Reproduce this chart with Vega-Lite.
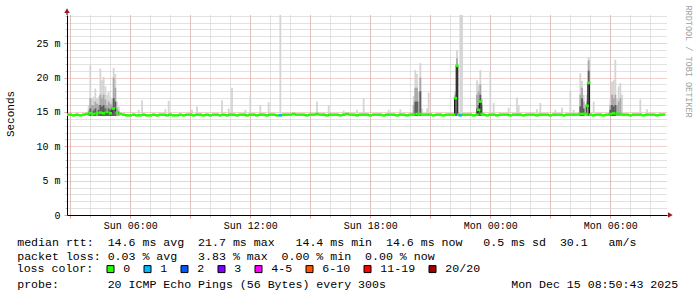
{
"$schema": "https://vega.github.io/schema/vega-lite/v6.json",
"width": 600, "height": 200,
"autosize": {"type": "none"},
"padding": {"left": 67, "top": 15, "right": 30, "bottom": 82},
"background": "#ffffff",
"config": {"view": {"stroke": null}, "font": "Liberation Mono",
  "axis": {"labelFont": "Liberation Mono", "titleFont": "Liberation Mono", "labelColor": "#000", "titleColor": "#000", "titleFontWeight": "normal"}},
"datasets": {
"med": [
{"t":"2025-12-14T02:50","m":14.6,"l":"0"},{"t":"2025-12-14T03:00","m":14.6,"l":"0"},{"t":"2025-12-14T03:10","m":14.5,"l":"0"},{"t":"2025-12-14T03:20","m":14.6,"l":"0"},{"t":"2025-12-14T03:30","m":14.5,"l":"0"},{"t":"2025-12-14T03:40","m":14.6,"l":"0"},{"t":"2025-12-14T03:50","m":14.7,"l":"0"},
{"t":"2025-12-14T04:00","m":14.8,"l":"0"},{"t":"2025-12-14T04:10","m":14.7,"l":"0"},{"t":"2025-12-14T04:20","m":14.8,"l":"0"},{"t":"2025-12-14T04:30","m":14.9,"l":"0"},{"t":"2025-12-14T04:40","m":14.8,"l":"0"},{"t":"2025-12-14T04:50","m":15.0,"l":"0"},
{"t":"2025-12-14T05:00","m":14.8,"l":"0"},{"t":"2025-12-14T05:10","m":15.5,"l":"0"},{"t":"2025-12-14T05:20","m":14.9,"l":"0"},{"t":"2025-12-14T05:30","m":14.7,"l":"0"},{"t":"2025-12-14T05:40","m":14.6,"l":"0"},{"t":"2025-12-14T05:50","m":14.5,"l":"0"},
{"t":"2025-12-14T06:00","m":14.5,"l":"0"},{"t":"2025-12-14T06:10","m":14.6,"l":"0"},{"t":"2025-12-14T06:20","m":14.5,"l":"0"},{"t":"2025-12-14T06:30","m":14.5,"l":"0"},{"t":"2025-12-14T06:40","m":14.6,"l":"0"},{"t":"2025-12-14T06:50","m":14.5,"l":"0"},
{"t":"2025-12-14T07:00","m":14.5,"l":"0"},{"t":"2025-12-14T07:10","m":14.6,"l":"0"},{"t":"2025-12-14T07:20","m":14.5,"l":"0"},{"t":"2025-12-14T07:30","m":14.6,"l":"0"},{"t":"2025-12-14T07:40","m":14.6,"l":"0"},{"t":"2025-12-14T07:50","m":14.5,"l":"0"},
{"t":"2025-12-14T08:00","m":14.6,"l":"0"},{"t":"2025-12-14T08:10","m":14.5,"l":"0"},{"t":"2025-12-14T08:20","m":14.5,"l":"0"},{"t":"2025-12-14T08:30","m":14.6,"l":"0"},{"t":"2025-12-14T08:40","m":14.5,"l":"0"},{"t":"2025-12-14T08:50","m":14.6,"l":"0"},
{"t":"2025-12-14T09:00","m":14.6,"l":"0"},{"t":"2025-12-14T09:10","m":14.5,"l":"0"},{"t":"2025-12-14T09:20","m":14.6,"l":"0"},{"t":"2025-12-14T09:30","m":14.6,"l":"0"},{"t":"2025-12-14T09:40","m":14.5,"l":"0"},{"t":"2025-12-14T09:50","m":14.6,"l":"0"},
{"t":"2025-12-14T10:00","m":14.5,"l":"0"},{"t":"2025-12-14T10:10","m":14.6,"l":"0"},{"t":"2025-12-14T10:20","m":14.6,"l":"0"},{"t":"2025-12-14T10:30","m":14.5,"l":"0"},{"t":"2025-12-14T10:40","m":14.6,"l":"0"},{"t":"2025-12-14T10:50","m":14.5,"l":"0"},
{"t":"2025-12-14T11:00","m":14.6,"l":"0"},{"t":"2025-12-14T11:10","m":14.6,"l":"0"},{"t":"2025-12-14T11:20","m":14.5,"l":"0"},{"t":"2025-12-14T11:30","m":14.6,"l":"0"},{"t":"2025-12-14T11:40","m":14.6,"l":"0"},{"t":"2025-12-14T11:50","m":14.5,"l":"0"},
{"t":"2025-12-14T12:00","m":14.6,"l":"0"},{"t":"2025-12-14T12:10","m":14.6,"l":"0"},{"t":"2025-12-14T12:20","m":14.5,"l":"0"},{"t":"2025-12-14T12:30","m":14.6,"l":"0"},{"t":"2025-12-14T12:40","m":14.6,"l":"0"},{"t":"2025-12-14T12:50","m":14.5,"l":"0"},
{"t":"2025-12-14T13:00","m":14.6,"l":"0"},{"t":"2025-12-14T13:10","m":14.6,"l":"0"},{"t":"2025-12-14T13:20","m":14.5,"l":"0"},{"t":"2025-12-14T13:30","m":14.5,"l":"1"},{"t":"2025-12-14T13:40","m":14.6,"l":"0"},{"t":"2025-12-14T13:50","m":14.6,"l":"0"},
{"t":"2025-12-14T14:00","m":14.6,"l":"0"},{"t":"2025-12-14T14:10","m":14.7,"l":"0"},{"t":"2025-12-14T14:20","m":14.6,"l":"0"},{"t":"2025-12-14T14:30","m":14.6,"l":"0"},{"t":"2025-12-14T14:40","m":14.6,"l":"0"},{"t":"2025-12-14T14:50","m":14.5,"l":"0"},
{"t":"2025-12-14T15:00","m":14.6,"l":"0"},{"t":"2025-12-14T15:10","m":14.6,"l":"0"},{"t":"2025-12-14T15:20","m":14.7,"l":"0"},{"t":"2025-12-14T15:30","m":14.6,"l":"0"},{"t":"2025-12-14T15:40","m":14.6,"l":"0"},{"t":"2025-12-14T15:50","m":14.5,"l":"0"},
{"t":"2025-12-14T16:00","m":14.6,"l":"0"},{"t":"2025-12-14T16:10","m":14.6,"l":"0"},{"t":"2025-12-14T16:20","m":14.6,"l":"0"},{"t":"2025-12-14T16:30","m":14.5,"l":"0"},{"t":"2025-12-14T16:40","m":14.6,"l":"0"},{"t":"2025-12-14T16:50","m":14.7,"l":"0"},
{"t":"2025-12-14T17:00","m":14.6,"l":"0"},{"t":"2025-12-14T17:10","m":14.6,"l":"0"},{"t":"2025-12-14T17:20","m":14.5,"l":"0"},{"t":"2025-12-14T17:30","m":14.6,"l":"0"},{"t":"2025-12-14T17:40","m":14.6,"l":"0"},{"t":"2025-12-14T17:50","m":14.6,"l":"0"},
{"t":"2025-12-14T18:00","m":14.5,"l":"0"},{"t":"2025-12-14T18:10","m":14.6,"l":"0"},{"t":"2025-12-14T18:20","m":14.6,"l":"0"},{"t":"2025-12-14T18:30","m":14.6,"l":"0"},{"t":"2025-12-14T18:40","m":14.5,"l":"0"},{"t":"2025-12-14T18:50","m":14.6,"l":"0"},
{"t":"2025-12-14T19:00","m":14.6,"l":"0"},{"t":"2025-12-14T19:10","m":14.6,"l":"0"},{"t":"2025-12-14T19:20","m":14.5,"l":"0"},{"t":"2025-12-14T19:30","m":14.6,"l":"0"},{"t":"2025-12-14T19:40","m":14.6,"l":"0"},{"t":"2025-12-14T19:50","m":14.5,"l":"0"},
{"t":"2025-12-14T20:00","m":14.6,"l":"0"},{"t":"2025-12-14T20:10","m":14.6,"l":"0"},{"t":"2025-12-14T20:20","m":14.7,"l":"0"},{"t":"2025-12-14T20:30","m":14.7,"l":"0"},{"t":"2025-12-14T20:40","m":14.6,"l":"0"},{"t":"2025-12-14T20:50","m":14.6,"l":"0"},
{"t":"2025-12-14T21:00","m":14.6,"l":"0"},{"t":"2025-12-14T21:10","m":14.5,"l":"0"},{"t":"2025-12-14T21:20","m":14.6,"l":"0"},{"t":"2025-12-14T21:30","m":14.6,"l":"0"},{"t":"2025-12-14T21:40","m":14.5,"l":"0"},{"t":"2025-12-14T21:50","m":14.6,"l":"0"},
{"t":"2025-12-14T22:00","m":14.6,"l":"0"},{"t":"2025-12-14T22:10","m":14.6,"l":"0"},{"t":"2025-12-14T22:15","m":17.0,"l":"0"},{"t":"2025-12-14T22:20","m":21.7,"l":"0"},{"t":"2025-12-14T22:25","m":14.6,"l":"0"},{"t":"2025-12-14T22:30","m":14.5,"l":"1"},{"t":"2025-12-14T22:40","m":14.6,"l":"0"},{"t":"2025-12-14T22:50","m":14.6,"l":"0"},
{"t":"2025-12-14T23:00","m":14.6,"l":"0"},{"t":"2025-12-14T23:10","m":14.5,"l":"0"},{"t":"2025-12-14T23:20","m":14.6,"l":"0"},{"t":"2025-12-14T23:25","m":15.3,"l":"0"},{"t":"2025-12-14T23:30","m":16.5,"l":"0"},{"t":"2025-12-14T23:35","m":14.7,"l":"0"},{"t":"2025-12-14T23:40","m":14.6,"l":"0"},{"t":"2025-12-14T23:50","m":14.5,"l":"0"},
{"t":"2025-12-15T00:00","m":14.6,"l":"0"},{"t":"2025-12-15T00:10","m":14.6,"l":"0"},{"t":"2025-12-15T00:20","m":14.5,"l":"0"},{"t":"2025-12-15T00:30","m":14.6,"l":"0"},{"t":"2025-12-15T00:40","m":14.6,"l":"0"},{"t":"2025-12-15T00:50","m":14.6,"l":"0"},
{"t":"2025-12-15T01:00","m":14.5,"l":"0"},{"t":"2025-12-15T01:10","m":14.6,"l":"0"},{"t":"2025-12-15T01:20","m":14.6,"l":"0"},{"t":"2025-12-15T01:30","m":14.6,"l":"0"},{"t":"2025-12-15T01:40","m":14.5,"l":"0"},{"t":"2025-12-15T01:50","m":14.6,"l":"0"},
{"t":"2025-12-15T02:00","m":14.6,"l":"0"},{"t":"2025-12-15T02:10","m":14.6,"l":"0"},{"t":"2025-12-15T02:20","m":14.5,"l":"0"},{"t":"2025-12-15T02:30","m":14.6,"l":"0"},{"t":"2025-12-15T02:40","m":14.6,"l":"0"},{"t":"2025-12-15T02:50","m":14.6,"l":"0"},
{"t":"2025-12-15T03:00","m":14.5,"l":"0"},{"t":"2025-12-15T03:10","m":14.6,"l":"0"},{"t":"2025-12-15T03:20","m":14.6,"l":"0"},{"t":"2025-12-15T03:30","m":14.6,"l":"0"},{"t":"2025-12-15T03:40","m":14.5,"l":"0"},{"t":"2025-12-15T03:50","m":14.6,"l":"0"},
{"t":"2025-12-15T04:00","m":14.6,"l":"0"},{"t":"2025-12-15T04:10","m":14.6,"l":"0"},{"t":"2025-12-15T04:20","m":14.6,"l":"0"},{"t":"2025-12-15T04:30","m":14.7,"l":"0"},{"t":"2025-12-15T04:40","m":14.7,"l":"0"},{"t":"2025-12-15T04:45","m":14.7,"l":"0"},{"t":"2025-12-15T04:50","m":15.9,"l":"0"},{"t":"2025-12-15T04:55","m":19.2,"l":"0"},
{"t":"2025-12-15T05:00","m":14.6,"l":"0"},{"t":"2025-12-15T05:10","m":14.5,"l":"0"},{"t":"2025-12-15T05:20","m":14.6,"l":"0"},{"t":"2025-12-15T05:30","m":14.6,"l":"0"},{"t":"2025-12-15T05:40","m":14.5,"l":"0"},{"t":"2025-12-15T05:50","m":14.6,"l":"0"},
{"t":"2025-12-15T06:00","m":14.7,"l":"0"},{"t":"2025-12-15T06:10","m":14.8,"l":"0"},{"t":"2025-12-15T06:20","m":14.7,"l":"0"},{"t":"2025-12-15T06:30","m":14.7,"l":"0"},{"t":"2025-12-15T06:40","m":14.6,"l":"0"},{"t":"2025-12-15T06:50","m":14.6,"l":"0"},
{"t":"2025-12-15T07:00","m":14.5,"l":"0"},{"t":"2025-12-15T07:10","m":14.6,"l":"0"},{"t":"2025-12-15T07:20","m":14.6,"l":"0"},{"t":"2025-12-15T07:30","m":14.6,"l":"0"},{"t":"2025-12-15T07:40","m":14.5,"l":"0"},{"t":"2025-12-15T07:50","m":14.6,"l":"0"},
{"t":"2025-12-15T08:00","m":14.6,"l":"0"},{"t":"2025-12-15T08:10","m":14.6,"l":"0"},{"t":"2025-12-15T08:20","m":14.5,"l":"0"},{"t":"2025-12-15T08:30","m":14.6,"l":"0"},{"t":"2025-12-15T08:40","m":14.6,"l":"0"}
],
"smoke": [
{"t":"2025-12-14T03:55","h":16.0,"p":15.2},{"t":"2025-12-14T04:00","h":21.8,"p":17.0,"q":15.5},{"t":"2025-12-14T04:05","h":17.0,"p":16.0},{"t":"2025-12-14T04:10","h":17.2,"p":16.0,"q":15.2},
{"t":"2025-12-14T04:15","h":18.4,"p":16.5,"q":15.5},{"t":"2025-12-14T04:20","h":17.0,"p":16.2},{"t":"2025-12-14T04:25","h":17.2,"p":16.0,"q":15.3},{"t":"2025-12-14T04:30","h":21.3,"p":17.5,"q":16.0},
{"t":"2025-12-14T04:35","h":19.6,"p":17.0,"q":15.8},{"t":"2025-12-14T04:40","h":20.1,"p":17.5,"q":16.0},{"t":"2025-12-14T04:45","h":18.7,"p":16.8,"q":15.5},{"t":"2025-12-14T04:50","h":17.5,"p":16.0,"q":15.2},
{"t":"2025-12-14T04:55","h":17.9,"p":16.5,"q":15.5},{"t":"2025-12-14T05:00","h":17.2,"p":16.2,"q":15.3},{"t":"2025-12-14T05:05","h":16.8,"p":16.0,"q":15.2},{"t":"2025-12-14T05:10","h":21.4,"p":20.0,"q":17.0},
{"t":"2025-12-14T05:15","h":20.5,"p":18.5,"q":16.5},{"t":"2025-12-14T05:20","h":16.5,"p":15.5},{"t":"2025-12-14T05:25","h":15.8,"p":15.2},
{"t":"2025-12-14T06:25","h":15.3},{"t":"2025-12-14T06:35","h":16.7},{"t":"2025-12-14T07:45","h":15.4},{"t":"2025-12-14T07:55","h":16.6},{"t":"2025-12-14T09:05","h":15.3},{"t":"2025-12-14T09:20","h":15.8},
{"t":"2025-12-14T10:35","h":16.7},{"t":"2025-12-14T10:55","h":15.5},{"t":"2025-12-14T11:05","h":18.5},{"t":"2025-12-14T11:45","h":15.3},{"t":"2025-12-14T12:00","h":17.3},{"t":"2025-12-14T12:30","h":16.0},
{"t":"2025-12-14T12:55","h":16.4},{"t":"2025-12-14T13:30","h":29.5},{"t":"2025-12-14T15:20","h":16.5},{"t":"2025-12-14T15:55","h":16.0},{"t":"2025-12-14T16:40","h":15.2},{"t":"2025-12-14T17:20","h":15.3},
{"t":"2025-12-14T17:40","h":17.0},{"t":"2025-12-14T18:55","h":15.3},{"t":"2025-12-14T19:30","h":15.4},
{"t":"2025-12-14T20:10","h":17.3,"p":16.0},{"t":"2025-12-14T20:15","h":21.1,"p":18.5,"q":16.5},{"t":"2025-12-14T20:20","h":20.5,"p":18.5,"q":16.5},{"t":"2025-12-14T20:25","h":18.0,"p":16.5},
{"t":"2025-12-14T20:30","h":22.1,"p":20.0,"q":18.0},{"t":"2025-12-14T20:35","h":15.5},{"t":"2025-12-14T20:50","h":15.5},{"t":"2025-12-14T20:55","h":17.8},
{"t":"2025-12-14T22:15","h":18.0,"p":17.5,"q":17.1},{"t":"2025-12-14T22:20","h":24.0,"p":22.8,"q":21.8},{"t":"2025-12-14T22:30","h":29.5},{"t":"2025-12-14T22:35","h":29.5},
{"t":"2025-12-14T23:20","h":19.6,"p":17.5,"q":15.5},{"t":"2025-12-14T23:25","h":19.1,"p":18.0,"q":16.0},{"t":"2025-12-14T23:30","h":21.1,"p":19.0,"q":17.5},{"t":"2025-12-14T23:35","h":17.0,"p":16.0},
{"t":"2025-12-15T00:00","h":20.9},{"t":"2025-12-15T00:10","h":16.3},{"t":"2025-12-15T00:55","h":15.6},{"t":"2025-12-15T01:20","h":17.1},{"t":"2025-12-15T01:25","h":16.0},{"t":"2025-12-15T02:20","h":15.4},
{"t":"2025-12-15T02:30","h":16.3},{"t":"2025-12-15T03:15","h":15.3},{"t":"2025-12-15T03:35","h":15.6},{"t":"2025-12-15T04:00","h":18.1},{"t":"2025-12-15T04:10","h":15.3},
{"t":"2025-12-15T04:30","h":20.6,"p":17.5,"q":15.8},{"t":"2025-12-15T04:35","h":19.5,"p":18.5,"q":17.0},{"t":"2025-12-15T04:40","h":17.5,"p":16.5,"q":15.5},{"t":"2025-12-15T04:50","h":17.5,"p":16.5},
{"t":"2025-12-15T04:55","h":23.0,"p":22.5,"q":21.0},{"t":"2025-12-15T05:10","h":16.5},
{"t":"2025-12-15T06:00","h":16.7,"p":16.0,"q":15.3},{"t":"2025-12-15T06:05","h":19.4,"p":17.5,"q":16.0},{"t":"2025-12-15T06:10","h":19.6,"p":17.0,"q":15.8},{"t":"2025-12-15T06:15","h":22.6,"p":17.5,"q":16.0},
{"t":"2025-12-15T06:20","h":17.0,"p":16.0},{"t":"2025-12-15T06:25","h":18.7,"p":16.5},{"t":"2025-12-15T06:30","h":19.2,"p":17.0},{"t":"2025-12-15T06:35","h":17.5},{"t":"2025-12-15T07:30","h":16.8},{"t":"2025-12-15T07:50","h":15.4}
],
"arrowY": [{"t":"2025-12-14T02:50","v":29.75}],
"arrowX": [{"t":"2025-12-15T09:00","v":0}]
},
"resolve": {"axis": {"x": "independent", "y": "independent"}},
"layer": [
{"data": {"name": "smoke"},
 "mark": {"type": "rule", "strokeWidth": 1.8, "color": "#d4d4d4", "clip": true},
 "encoding": {
  "x": {"field": "t", "type": "temporal",
        "scale": {"domain": [{"year": 2025, "month": 12, "date": 14, "hours": 2, "minutes": 50}, {"year": 2025, "month": 12, "date": 15, "hours": 8, "minutes": 50}], "nice": false},
        "axis": {"orient": "bottom",
                 "values": [{"year":2025,"month":12,"date":14,"hours":3},{"year":2025,"month":12,"date":14,"hours":4},{"year":2025,"month":12,"date":14,"hours":5},{"year":2025,"month":12,"date":14,"hours":6},{"year":2025,"month":12,"date":14,"hours":7},{"year":2025,"month":12,"date":14,"hours":8},{"year":2025,"month":12,"date":14,"hours":9},{"year":2025,"month":12,"date":14,"hours":10},{"year":2025,"month":12,"date":14,"hours":11},{"year":2025,"month":12,"date":14,"hours":12},{"year":2025,"month":12,"date":14,"hours":13},{"year":2025,"month":12,"date":14,"hours":14},{"year":2025,"month":12,"date":14,"hours":15},{"year":2025,"month":12,"date":14,"hours":16},{"year":2025,"month":12,"date":14,"hours":17},{"year":2025,"month":12,"date":14,"hours":18},{"year":2025,"month":12,"date":14,"hours":19},{"year":2025,"month":12,"date":14,"hours":20},{"year":2025,"month":12,"date":14,"hours":21},{"year":2025,"month":12,"date":14,"hours":22},{"year":2025,"month":12,"date":14,"hours":23},{"year":2025,"month":12,"date":15,"hours":0},{"year":2025,"month":12,"date":15,"hours":1},{"year":2025,"month":12,"date":15,"hours":2},{"year":2025,"month":12,"date":15,"hours":3},{"year":2025,"month":12,"date":15,"hours":4},{"year":2025,"month":12,"date":15,"hours":5},{"year":2025,"month":12,"date":15,"hours":6},{"year":2025,"month":12,"date":15,"hours":7},{"year":2025,"month":12,"date":15,"hours":8}],
                 "grid": true, "gridColor": "#c4c4c4", "gridDash": [1, 1], "labels": false, "ticks": true, "tickColor": "#c4c4c4", "tickSize": 2, "domain": false,
                 "title": "probe:\u00a0\u00a0\u00a0\u00a0\u00a0\u00a0\u00a020 ICMP Echo Pings (56 Bytes) every 300s\u00a0\u00a0\u00a0\u00a0\u00a0\u00a0\u00a0\u00a0\u00a0\u00a0\u00a0\u00a0\u00a0\u00a0\u00a0\u00a0\u00a0\u00a0Mon Dec 15 08:50:43 2025",
                 "titleX": -50.3, "titleY": 72.2, "titleAlign": "left", "titleAnchor": "start", "titleBaseline": "alphabetic", "titleFontSize": 11.6}},
  "y": {"field": "h", "type": "quantitative",
        "scale": {"domain": [0, 29.1], "nice": false},
        "axis": {"orient": "left", "values": [1,2,3,4,6,7,8,9,11,12,13,14,16,17,18,19,21,22,23,24,26,27,28,29], "grid": true, "gridColor": "#c4c4c4", "gridDash": [1, 1], "labels": false, "ticks": true, "tickColor": "#c4c4c4", "tickSize": 2, "domain": false, "title": null}},
  "y2": {"datum": 14.4}}},
{"data": {"name": "smoke"},
 "mark": {"type": "rule", "strokeWidth": 1.8, "color": "#a8a8a8", "clip": true},
 "encoding": {
  "x": {"field": "t", "type": "temporal", "axis": null},
  "y": {"field": "p", "type": "quantitative",
        "axis": {"orient": "right", "labels": false, "ticks": false, "domain": false, "grid": false, "title": "RRDTOOL / TOBI OETIKER",
                 "titleAngle": 90, "titleX": 21.5, "titleY": -10, "titleAlign": "left", "titleBaseline": "middle", "titleFontSize": 8.5, "titleColor": "#a0a0a0"}},
  "y2": {"datum": 14.4}}},
{"data": {"name": "smoke"},
 "mark": {"type": "rule", "strokeWidth": 1.8, "color": "#5c5c5c", "clip": true},
 "encoding": {
  "x": {"field": "t", "type": "temporal", "axis": null},
  "y": {"field": "q", "type": "quantitative", "axis": null},
  "y2": {"datum": 14.4}}},
{"data": {"name": "med"},
 "mark": {"type": "line", "interpolate": "step", "color": "#1a1a1a", "strokeWidth": 1, "clip": true},
 "encoding": {
  "x": {"field": "t", "type": "temporal",
        "axis": {"orient": "bottom",
                 "values": [{"year":2025,"month":12,"date":14,"hours":3},{"year":2025,"month":12,"date":14,"hours":6},{"year":2025,"month":12,"date":14,"hours":9},{"year":2025,"month":12,"date":14,"hours":12},{"year":2025,"month":12,"date":14,"hours":15},{"year":2025,"month":12,"date":14,"hours":18},{"year":2025,"month":12,"date":14,"hours":21},{"year":2025,"month":12,"date":15,"hours":0},{"year":2025,"month":12,"date":15,"hours":3},{"year":2025,"month":12,"date":15,"hours":6}],
                 "grid": true, "gridColor": "#e3a0a0", "gridDash": [1, 1],
                 "tickColor": "#e3a0a0", "tickSize": 3, "domainColor": "#000", "labelFontSize": 10, "labelPadding": 2, "labelFlush": false, "labelOverlap": false,
                 "labelExpr": "hours(datum.value) % 6 == 0 ? timeFormat(datum.value, '%a %H:%M') : ''",
                 "title": ["median rtt:\u00a0\u00a014.6 ms avg\u00a0\u00a021.7 ms max\u00a0\u00a0\u00a014.4 ms min\u00a0\u00a014.6 ms now\u00a0\u00a0\u00a00.5 ms sd\u00a0\u00a030.1\u00a0\u00a0\u00a0am/s",
                           "packet loss: 0.03 % avg\u00a0\u00a0\u00a03.83 % max\u00a0\u00a00.00 % min\u00a0\u00a00.00 % now"],
                 "titleX": -50.3, "titleY": 30, "titleAlign": "left", "titleAnchor": "start", "titleBaseline": "alphabetic", "titleFontSize": 11.6, "titleLineHeight": 14.1}},
  "y": {"field": "m", "type": "quantitative",
        "scale": {"domain": [0, 29.1], "nice": false},
        "axis": {"orient": "left", "values": [0, 5, 10, 15, 20, 25], "grid": true, "gridColor": "#e3a0a0", "gridDash": [1, 1],
                 "tickColor": "#e3a0a0", "tickSize": 3, "labelPadding": 4, "labelFontSize": 10, "domainColor": "#000",
                 "labelExpr": "datum.value == 0 ? '0' : datum.value + ' m'",
                 "title": "Seconds", "titleX": -57, "titleY": 98.5, "titleAngle": 270, "titleAlign": "center", "titleBaseline": "middle", "titleFontSize": 11}}}},
{"data": {"name": "med"},
 "mark": {"type": "tick", "orient": "horizontal", "size": 3.4, "thickness": 2.6, "clip": true, "opacity": 1},
 "encoding": {
  "x": {"field": "t", "type": "temporal", "axis": null},
  "y": {"field": "m", "type": "quantitative", "axis": null},
  "color": {"field": "l", "type": "nominal",
            "scale": {"domain": ["0", "1", "2", "3", "4-5", "6-10", "11-19", "20/20"], "range": ["#26ff00", "#00b8ff", "#0059ff", "#7e00ff", "#ff00ff", "#ff5500", "#ff0000", "#a00000"]},
            "legend": {"orient": "none", "legendX": -50.3, "legendY": 248, "direction": "horizontal", "title": "loss color:", "titleOrient": "left",
                       "titleFont": "Liberation Mono", "titleFontSize": 11.6, "titleFontWeight": "normal", "titleColor": "#000", "titlePadding": 11,
                       "labelFont": "Liberation Mono", "labelFontSize": 11.6, "labelColor": "#000", "labelOffset": 7,
                       "symbolType": "square", "symbolSize": 49, "symbolStrokeWidth": 1, "symbolStrokeColor": "#000", "symbolOpacity": 1, "columnPadding": 11}}}},
{"data": {"name": "arrowY"},
 "mark": {"type": "rule", "color": "#000", "strokeWidth": 1},
 "encoding": {
  "x": {"field": "t", "type": "temporal", "axis": null},
  "y": {"field": "v", "type": "quantitative", "axis": null},
  "y2": {"datum": 29.1}}},
{"data": {"name": "arrowY"},
 "mark": {"type": "point", "shape": "triangle-up", "filled": true, "size": 30, "color": "#9a1c1c", "opacity": 1},
 "encoding": {
  "x": {"field": "t", "type": "temporal", "axis": null},
  "y": {"field": "v", "type": "quantitative", "axis": null}}},
{"data": {"name": "arrowX"},
 "mark": {"type": "point", "shape": "triangle-right", "filled": true, "size": 30, "color": "#9a1c1c", "opacity": 1},
 "encoding": {
  "x": {"field": "t", "type": "temporal", "axis": null},
  "y": {"field": "v", "type": "quantitative", "axis": null}}}
]
}
